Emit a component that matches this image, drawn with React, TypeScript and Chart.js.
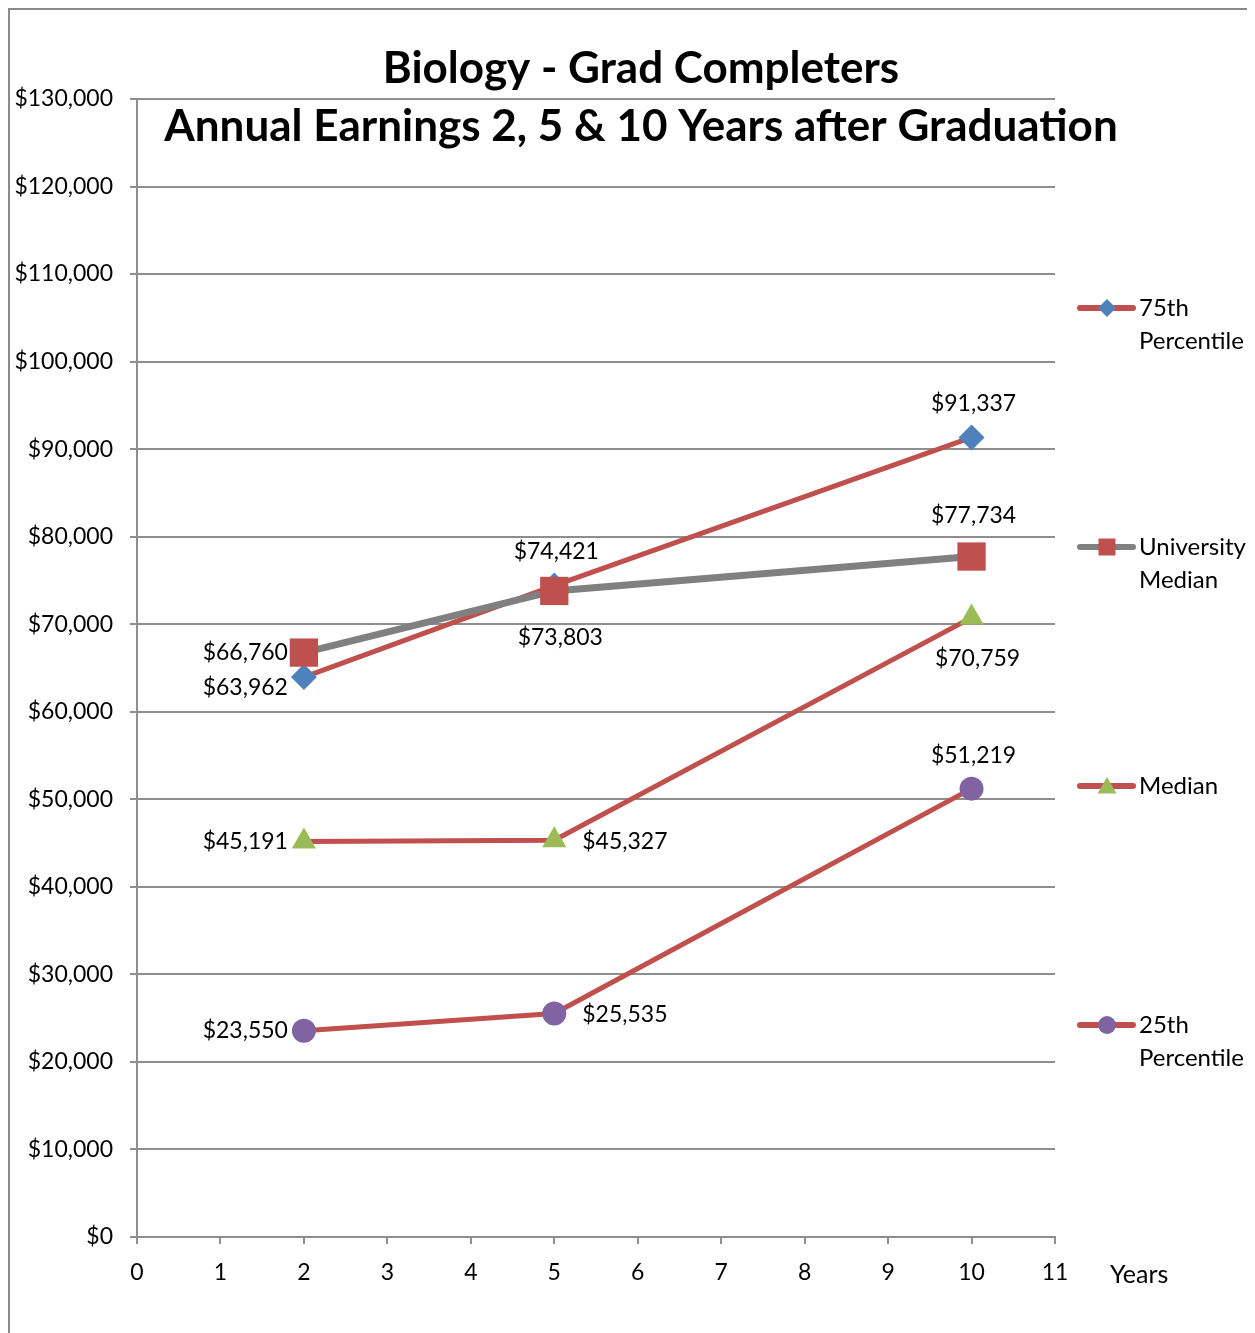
import React, { useEffect, useRef } from 'react';
import { Chart, registerables } from 'chart.js';

Chart.register(...registerables);

// ---- data ----
const years = [2, 5, 10];
const seriesNames = ['75th Percentile', 'University Median', 'Median', '25th Percentile'];
const p75Values = [63962, 74421, 91337];
const uniMedianValues = [66760, 73803, 77734];
const medianValues = [45191, 45327, 70759];
const p25Values = [23550, 25535, 51219];
const titleLines = ['Biology - Grad Completers', 'Annual Earnings 2, 5 & 10 Years after Graduation'];
const xAxisTitle = 'Years';
const legendLines = [['75th', 'Percentile'], ['University', 'Median'], ['Median'], ['25th', 'Percentile']];
const labelPlacement = [
  ['leftLow', 'above', 'above'],
  ['left', 'below', 'above'],
  ['left', 'right', 'below'],
  ['left', 'right', 'above'],
];

// ---- styles ----
const FONT = 'Lato, "Open Sans", sans-serif';
const RED = '#C0504D';
const BLUE = '#4F81BD';
const GREEN = '#9BBB59';
const PURPLE = '#8064A2';
const GRAY = '#808080';
const GRID = '#8e8e8e';

const lineColors = [RED, GRAY, RED, RED];
const lineWidths = [5, 7, 5, 5];
const markerColors = [BLUE, RED, GREEN, PURPLE];
const markerStyles = ['rectRot', 'rect', 'triangle', 'circle'];
const markerRadii = [13, 20, 14, 12];
const legendMarkerRadii = [9, 12, 11, 9];

const fmt = (v: number) => '$' + Math.round(v).toLocaleString('en-US');

function drawMarker(ctx: CanvasRenderingContext2D, style: string, x: number, y: number, r: number, color: string) {
  ctx.save();
  ctx.fillStyle = color;
  ctx.beginPath();
  if (style === 'rectRot') {
    ctx.moveTo(x, y - r);
    ctx.lineTo(x + r, y);
    ctx.lineTo(x, y + r);
    ctx.lineTo(x - r, y);
    ctx.closePath();
  } else if (style === 'rect') {
    const s = r * Math.SQRT1_2;
    ctx.rect(x - s, y - s, 2 * s, 2 * s);
  } else if (style === 'triangle') {
    const h = r * 1.5;
    const w = r * Math.sqrt(3);
    ctx.moveTo(x, y - h * 0.55);
    ctx.lineTo(x + w / 2, y + h * 0.45);
    ctx.lineTo(x - w / 2, y + h * 0.45);
    ctx.closePath();
  } else {
    ctx.arc(x, y, r, 0, Math.PI * 2);
  }
  ctx.fill();
  ctx.restore();
}

const overlayPlugin = {
  id: 'overlay',
  afterDatasetsDraw(chart: any) {
    const ctx: CanvasRenderingContext2D = chart.ctx;
    ctx.save();
    ctx.font = `23px ${FONT}`;
    ctx.fillStyle = '#000';
    chart.data.datasets.forEach((ds: any, di: number) => {
      const meta = chart.getDatasetMeta(di);
      const r = markerRadii[di];
      meta.data.forEach((pt: any, i: number) => {
        const v = ds.data[i].y;
        const pos = labelPlacement[di][i];
        const text = fmt(v);
        let x = pt.x;
        let y = pt.y;
        ctx.textBaseline = 'middle';
        if (pos === 'left' || pos === 'leftLow') {
          ctx.textAlign = 'right';
          x = pt.x - 16;
          y = pt.y + (pos === 'leftLow' ? 10 : 0);
        } else if (pos === 'right') {
          ctx.textAlign = 'left';
          x = pt.x + 28;
          y = pt.y + 1;
        } else if (pos === 'above') {
          ctx.textAlign = 'center';
          x = pt.x + 2;
          y = pt.y - (r + 21);
        } else {
          ctx.textAlign = 'center';
          x = pt.x + 6;
          y = pt.y + (r + 27);
        }
        ctx.fillText(text, x, y);
      });
    });
    ctx.restore();
  },
  afterDraw(chart: any) {
    const ctx: CanvasRenderingContext2D = chart.ctx;
    const ca = chart.chartArea;
    ctx.save();
    // title
    ctx.fillStyle = '#000';
    ctx.textAlign = 'center';
    ctx.textBaseline = 'middle';
    ctx.font = `bold 44px ${FONT}`;
    const cx = (ca.left + ca.right) / 2 + 45;
    ctx.fillText(titleLines[0], cx, 59);
    ctx.fillText(titleLines[1], cx, 117);

    // x axis title
    ctx.font = `25px ${FONT}`;
    ctx.textAlign = 'left';
    ctx.fillText(xAxisTitle, ca.right + 55, ca.bottom + 38);

    // legend
    ctx.font = `24px ${FONT}`;
    const lx = ca.right + 25;
    const top = 298;
    const gap = 239;
    for (let i = 0; i < seriesNames.length; i++) {
      const y = top + gap * i;
      ctx.strokeStyle = lineColors[i];
      ctx.lineWidth = 6;
      ctx.lineCap = 'round';
      ctx.beginPath();
      ctx.moveTo(lx, y);
      ctx.lineTo(lx + 53, y);
      ctx.stroke();
      drawMarker(ctx, markerStyles[i], lx + 27, y, legendMarkerRadii[i], markerColors[i]);
      ctx.fillStyle = '#000';
      ctx.textAlign = 'left';
      ctx.textBaseline = 'middle';
      legendLines[i].forEach((t, k) => ctx.fillText(t, lx + 59, y + k * 33));
    }
    ctx.restore();
  },
};

export default function App() {
  const ref = useRef<HTMLCanvasElement>(null);
  useEffect(() => {
    document.documentElement.style.overflow = 'hidden';
    document.body.style.overflow = 'hidden';
    const seriesValues = [p75Values, uniMedianValues, medianValues, p25Values];
    const datasets = seriesValues.map((vals, si) => ({
      label: seriesNames[si],
      data: years.map((x, i) => ({ x, y: vals[i] })),
      borderColor: lineColors[si],
      borderWidth: lineWidths[si],
      backgroundColor: markerColors[si],
      pointBackgroundColor: markerColors[si],
      pointBorderColor: markerColors[si],
      pointBorderWidth: 0,
      pointStyle: markerStyles[si] as any,
      pointRadius: markerRadii[si],
      pointHoverRadius: markerRadii[si],
      tension: 0,
      order: si === 0 ? 1 : 0,
    }));
    const chart = new Chart(ref.current!, {
      type: 'line',
      data: { datasets },
      plugins: [overlayPlugin],
      options: {
        responsive: false,
        animation: false,
        events: [],
        layout: { padding: { top: 89, left: 0, right: 200, bottom: 0 } },
        plugins: {
          legend: { display: false },
          title: { display: false },
          tooltip: { enabled: false },
        },
        scales: {
          x: {
            type: 'linear',
            min: 0,
            max: 11,
            ticks: {
              stepSize: 1,
              color: '#000',
              font: { family: FONT, size: 23 },
              padding: 15,
            },
            grid: {
              drawOnChartArea: false,
              drawTicks: true,
              tickLength: 7,
              color: GRID,
              lineWidth: 2,
            },
            border: { color: GRID, width: 2 },
            afterFit: (s: any) => {
              s.height = 96;
            },
          },
          y: {
            min: 0,
            max: 130000,
            ticks: {
              stepSize: 10000,
              color: '#000',
              font: { family: FONT, size: 23 },
              padding: 17,
              callback: (v: any) => fmt(Number(v)),
            },
            grid: {
              color: GRID,
              lineWidth: 2,
              tickLength: 7,
            },
            border: { color: GRID, width: 2 },
            afterFit: (s: any) => {
              s.width = 127;
            },
          },
        },
      },
    });
    return () => chart.destroy();
  }, []);
  return (
    <div
      style={{
        borderLeft: '2px solid #8a8a8a',
        borderTop: '2px solid #8a8a8a',
        width: 1245,
        height: 1323,
      }}
    >
      <canvas ref={ref} width={1245} height={1323} style={{ display: 'block' }} />
    </div>
  );
}
